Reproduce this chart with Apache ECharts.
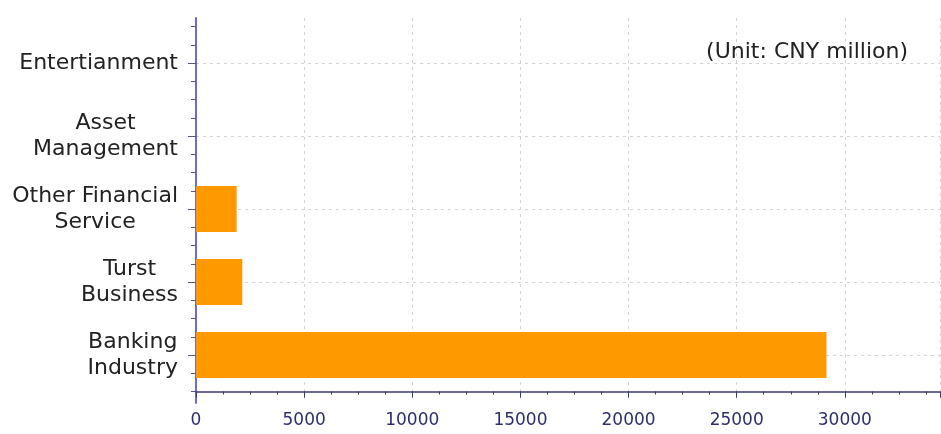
<!DOCTYPE html>
<html>
<head>
<meta charset="utf-8">
<script src="https://cdn.jsdelivr.net/npm/echarts@6/dist/echarts.min.js"></script>
<style>
html,body{margin:0;padding:0;background:#fff;}
#chart{width:941px;height:434px;}
</style>
</head>
<body>
<div id="chart"></div>
<script>
// Data (bottom to top)
const categories = ['Banking\nIndustry', 'Turst\nBusiness', 'Other Financial\nService', 'Asset\nManagement', 'Entertianment'];
const values = [29150, 2140, 1880, 0, 0];
const xMin = 0;
const xMax = 34400;
const xInterval = 5000;
const unitText = '(Unit: CNY million)';

const quarterTicks = Array.from({length: categories.length * 4 + 1}, (_, i) => i * 0.25);

const chart = echarts.init(document.getElementById('chart'), null, {renderer: 'canvas'});
const font = 'DejaVu Sans, Verdana, sans-serif';
chart.setOption({
  animation: false,
  backgroundColor: '#ffffff',
  title: {
    text: unitText,
    right: 28, top: 36,
    textStyle: {fontFamily: font, fontSize: 22, fontWeight: 'normal', color: '#222'}
  },
  grid: [
    {left: 196, right: 1, top: 26.5, bottom: 42.5, containLabel: false, outerBoundsMode: 'none'},
    {left: 196, right: 1, top: 18, bottom: 31, containLabel: false, outerBoundsMode: 'none'}
  ],
  xAxis: [
    {gridIndex: 0, type: 'value', min: xMin, max: xMax, show: false},
    {gridIndex: 1, type: 'value', min: xMin, max: xMax, interval: xInterval,
      axisLine: {show: true, lineStyle: {color: '#3a3a70', width: 1.5}},
      axisTick: {show: true, length: 6, inside: false, lineStyle: {color: '#3a3a70'}},
      minorTick: {show: true, splitNumber: 4, length: 3, lineStyle: {color: '#3a3a70'}},
      axisLabel: {margin: 9, fontFamily: font, fontSize: 17, color: '#2e2e6b', showMaxLabel: false,
        formatter: function (v) { return String(v); }},
      splitLine: {show: true, lineStyle: {color: '#d4d4d4', type: [3, 4], width: 1}}
    }
  ],
  yAxis: [
    {gridIndex: 0, type: 'category', data: categories,
      axisLine: {show: false},
      axisTick: {show: true, alignWithLabel: true, length: 8, lineStyle: {color: '#555577'}},
      splitLine: {show: true, alignWithLabel: true, lineStyle: {color: '#d4d4d4', type: [3, 4], width: 1}},
      axisLabel: {
        margin: 18,
        formatter: function (v) { return v.split('\n').map(s => '{c|' + s + '}').join('\n'); },
        rich: {c: {fontFamily: font, fontSize: 22, lineHeight: 26, color: '#222', align: 'center'}}
      }
    },
    {gridIndex: 1, type: 'value', min: -11.5 / 73, max: 373.5 / 73,
      axisLine: {show: true, lineStyle: {color: '#6b6bd0', width: 2}},
      axisTick: {show: true, length: 5, customValues: quarterTicks, lineStyle: {color: '#555577'}},
      axisLabel: {show: false},
      splitLine: {show: false}
    }
  ],
  series: [{
    type: 'bar',
    xAxisIndex: 0, yAxisIndex: 0,
    data: values,
    barWidth: 46,
    itemStyle: {color: '#ff9900', borderWidth: 0},
    z: 3
  }]
});
</script>
</body>
</html>
